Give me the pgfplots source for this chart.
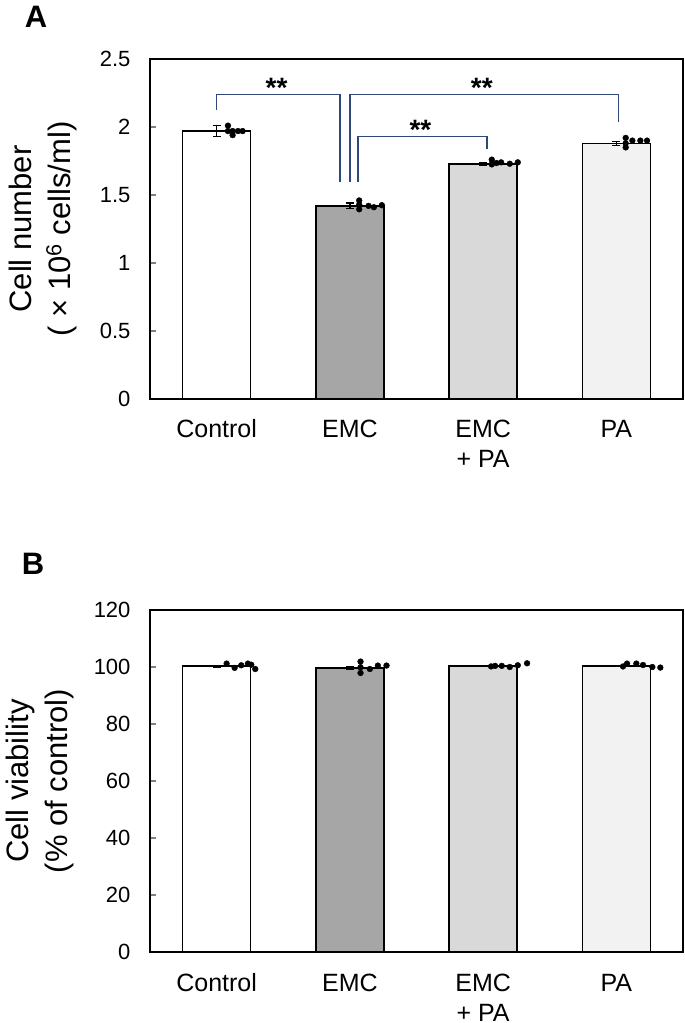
\documentclass[border=0pt]{standalone}
\usepackage{pgfplots}
\pgfplotsset{compat=1.18}
\usepackage{fontspec}
\setmainfont{Liberation Sans}
\definecolor{brk}{RGB}{47,72,120}
\definecolor{emc}{RGB}{166,166,166}
\definecolor{emcpa}{RGB}{217,217,217}
\definecolor{pac}{RGB}{242,242,242}

\tikzset{stars/.style={font=\bfseries\fontsize{28}{30}\selectfont}}
\pgfplotsset{
  panel/.style={
    scale only axis, width=533pt,
    xmin=-0.5, xmax=3.5, ymin=0,
    xtick={0,1,2,3},
    xticklabels={Control,EMC,{\begin{tabular}[t]{@{}c@{}}EMC\\+ PA\end{tabular}},PA},
    x tick style={draw=none},
    xticklabel style={anchor=base, font=\fontsize{25}{30}\selectfont, yshift=-39pt},
    ytick pos=left, tick align=inside, major tick length=6pt,
    y tick style={line width=1.4pt},
    yticklabel style={font=\fontsize{22}{25}\selectfont, xshift=-16pt},
    /pgf/number format/assume math mode=true,
    axis line style={line width=1.6pt},
    bar width=0.51, clip=false,
  },
  bar/.style={ybar, bar shift=0pt, draw=black, line width=1.6pt,
    error bars/y dir=both, error bars/y explicit,
    error bars/error bar style={line width=1.4pt, black},
    error bars/error mark options={rotate=90, mark size=4pt, line width=1.4pt, black}},
  dots/.style={only marks, mark=*, mark size=2.9pt, black},
  sig/.style={brk, line width=1.5pt, mark=none},
}

\begin{document}
\begin{tikzpicture}
\useasboundingbox (0,0) rectangle (685pt,1023pt);

% panel A
\begin{axis}[panel, at={(150pt,624pt)}, anchor=south west, height=340pt,
  ymax=2.5, ytick={0,0.5,1,1.5,2,2.5}, yticklabels={0,0.5,1,1.5,2,2.5}]
\addplot[bar, fill=white] coordinates {(0,1.97) +- (0,0.04)};
\addplot[bar, fill=emc] coordinates {(1,1.42) +- (0,0.02)};
\addplot[bar, fill=emcpa] coordinates {(2,1.73) +- (0,0.01)};
\addplot[bar, fill=pac] coordinates {(3,1.88) +- (0,0.015)};
\addplot[dots] coordinates {(0.085,2.01)(0.085,1.97)(0.12,1.94)(0.12,1.97)(0.16,1.97)(0.195,1.97)};
\addplot[dots] coordinates {(1.07,1.46)(1.07,1.43)(1.07,1.395)(1.14,1.42)(1.18,1.41)(1.24,1.425)};
\addplot[dots] coordinates {(2.065,1.76)(2.065,1.725)(2.10,1.735)(2.135,1.74)(2.20,1.73)(2.26,1.74)};
\addplot[dots] coordinates {(3.07,1.92)(3.07,1.85)(3.07,1.88)(3.12,1.90)(3.18,1.90)(3.23,1.90)};
\addplot[sig] coordinates {(0,2.125)(0,2.24)(0.925,2.24)(0.925,1.595)};
\addplot[sig] coordinates {(1.0,1.595)(1.0,2.24)(3.015,2.24)(3.015,2.04)};
\addplot[sig] coordinates {(1.06,1.595)(1.06,1.93)(2.03,1.93)(2.03,1.84)};
\node[stars] at (axis cs:0.45,2.29) {**};
\node[stars] at (axis cs:1.99,2.29) {**};
\node[stars] at (axis cs:1.53,1.98) {**};
\end{axis}

% panel B
\begin{axis}[panel, at={(150pt,71pt)}, anchor=south west, height=342pt,
  ymax=120, ytick={0,20,40,60,80,100,120}]
\addplot[bar, fill=white] coordinates {(0,100.3) +- (0,0.3)};
\addplot[bar, fill=emc] coordinates {(1,99.6) +- (0,0.5)};
\addplot[bar, fill=emcpa] coordinates {(2,100.3) +- (0,0.2)};
\addplot[bar, fill=pac] coordinates {(3,100.3) +- (0,0.2)};
\addplot[dots] coordinates {(0.075,101.2)(0.135,99.7)(0.185,100.6)(0.235,101.2)(0.26,100.8)(0.29,99.3)};
\addplot[dots] coordinates {(1.08,101.9)(1.08,97.9)(1.08,99.9)(1.15,99.3)(1.21,100.5)(1.275,100.5)};
\addplot[dots] coordinates {(2.06,100.2)(2.09,100.4)(2.14,100.4)(2.20,100.0)(2.26,100.6)(2.33,101.3)};
\addplot[dots] coordinates {(3.05,100.2)(3.08,101.2)(3.15,101.2)(3.20,100.7)(3.27,100.0)(3.33,99.8)};
\end{axis}

\node[font=\bfseries\fontsize{31}{32}\selectfont] at (36pt,1006pt) {A};
\node[font=\bfseries\fontsize{31}{32}\selectfont] at (33pt,459pt) {B};
\node[rotate=90, align=center, font=\fontsize{31}{39}\selectfont] at (43pt,794pt)
  {Cell number\\( × 10\textsuperscript{6} cells/ml)};
\node[rotate=90, align=center, font=\fontsize{31}{39}\selectfont] at (40pt,242pt)
  {Cell viability\\(\% of control)};
\end{tikzpicture}
\end{document}
